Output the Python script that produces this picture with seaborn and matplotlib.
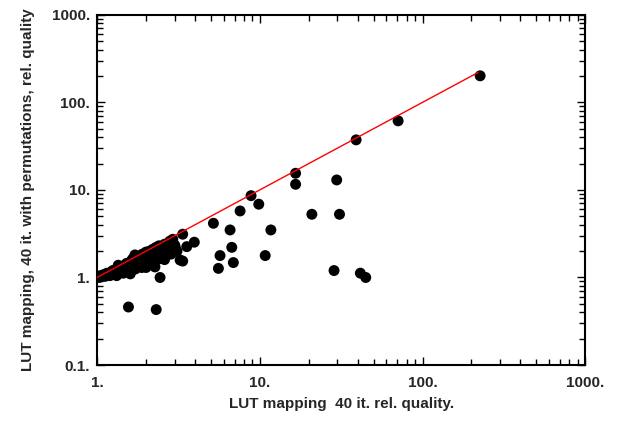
import matplotlib
matplotlib.use("Agg")
import matplotlib.pyplot as plt
import matplotlib.ticker as mticker
import seaborn as sns
import pandas as pd

# Relative quality values (x: LUT mapping 40 it., y: with permutations)
x_quality = [
    1.00, 1.03, 1.05, 1.08, 1.10, 1.12, 1.15, 1.18, 1.20, 1.22, 1.25, 1.27,
    1.30, 1.32, 1.35, 1.37, 1.40, 1.42, 1.45, 1.48, 1.50, 1.52, 1.55, 1.58,
    1.60, 1.62, 1.65, 1.68, 1.71, 1.72, 1.75, 1.78, 1.80, 1.85, 1.88, 1.90,
    1.95, 2.00, 2.05, 2.10, 2.15, 2.20, 2.25, 2.27, 2.30, 2.35, 2.40, 2.45,
    2.50, 2.55, 2.60, 2.65, 2.70, 2.80, 2.85, 2.92, 3.00, 3.02, 3.10, 3.24,
    3.36, 3.56, 3.96, 3.36, 2.44, 1.56, 2.31,
    1.60, 2.00, 2.60, 1.35, 2.40, 1.95, 2.75, 1.25,
    5.19, 6.57, 5.70, 6.88, 5.57, 6.73, 7.57, 8.84, 9.86, 10.8, 11.7,
    16.6, 16.6, 20.9, 29.7, 30.9, 28.6, 41.5, 44.8,
    39.1, 70.8, 226.0,
]
y_quality = [
    1.02, 1.00, 1.05, 1.04, 1.08, 1.03, 1.12, 1.10, 1.05, 1.15, 1.20, 1.10,
    1.22, 1.05, 1.28, 1.15, 1.32, 1.20, 1.12, 1.38, 1.25, 1.45, 1.30, 1.15,
    1.50, 1.35, 1.62, 1.40, 1.81, 1.25, 1.65, 1.45, 1.70, 1.50, 1.30, 1.85,
    1.60, 1.95, 1.70, 2.00, 1.50, 2.10, 1.80, 1.32, 2.20, 1.60, 2.30, 1.90,
    2.25, 1.70, 2.40, 2.00, 2.10, 2.60, 1.85, 2.73, 2.35, 2.25, 2.00, 1.58,
    3.12, 2.25, 2.53, 1.54, 1.00, 0.46, 0.43,
    1.10, 1.30, 1.60, 1.38, 2.05, 1.75, 2.30, 1.18,
    4.16, 3.49, 1.78, 1.48, 1.27, 2.21, 5.75, 8.60, 6.87, 1.78, 3.49,
    15.5, 11.6, 5.27, 13.0, 5.27, 1.20, 1.12, 1.00,
    37.3, 61.5, 201.0,
]
# Reference line y = x
line_x = [1.0, 220.0]
line_y = [1.0, 220.0]

df = pd.DataFrame({"x": x_quality, "y": y_quality})
df_line = pd.DataFrame({"x": line_x, "y": line_y})

sns.set_style("ticks")
plt.rcParams["font.family"] = ["Liberation Sans", "DejaVu Sans"]
plt.rcParams["font.weight"] = "bold"

fig = plt.figure(figsize=(6.18, 4.23), dpi=100)
ax = fig.add_axes([0.157, 0.137, 0.790, 0.828])

sns.lineplot(data=df_line, x="x", y="y", ax=ax, color="#ff0000", linewidth=1.0,
             zorder=3)
sns.scatterplot(data=df, x="x", y="y", ax=ax, color="black", s=62,
                edgecolor="none", linewidth=0, zorder=2)

ax.set_xscale("log")
ax.set_yscale("log")
ax.set_xlim(1, 1000)
ax.set_ylim(0.1, 1000)

fmt = mticker.FuncFormatter(lambda v, p: ("%g." % v))
ax.xaxis.set_major_locator(mticker.LogLocator(base=10, numticks=10))
ax.yaxis.set_major_locator(mticker.LogLocator(base=10, numticks=10))
ax.xaxis.set_minor_locator(mticker.LogLocator(base=10, subs=range(2, 10), numticks=20))
ax.yaxis.set_minor_locator(mticker.LogLocator(base=10, subs=range(2, 10), numticks=20))
ax.xaxis.set_major_formatter(fmt)
ax.yaxis.set_major_formatter(fmt)
ax.xaxis.set_minor_formatter(mticker.NullFormatter())
ax.yaxis.set_minor_formatter(mticker.NullFormatter())

ax.tick_params(which="both", direction="in", top=True, right=True,
               color="black", width=1.0)
ax.tick_params(which="major", length=6, labelsize=11)
ax.tick_params(axis="x", which="major", pad=8)
ax.tick_params(axis="y", which="major", pad=5)
ax.tick_params(which="minor", length=4)
for lab in ax.get_xticklabels() + ax.get_yticklabels():
    lab.set_fontweight("bold")

for sp in ax.spines.values():
    sp.set_visible(True)
    sp.set_linewidth(1.5)
    sp.set_color("black")

ax.set_xlabel("LUT mapping  40 it. rel. quality.", fontsize=11,
              fontweight="bold", labelpad=5)
ax.set_ylabel("LUT mapping, 40 it. with permutations, rel. quality",
              fontsize=11, fontweight="bold", labelpad=12)

fig.savefig("out.png", dpi=100)
